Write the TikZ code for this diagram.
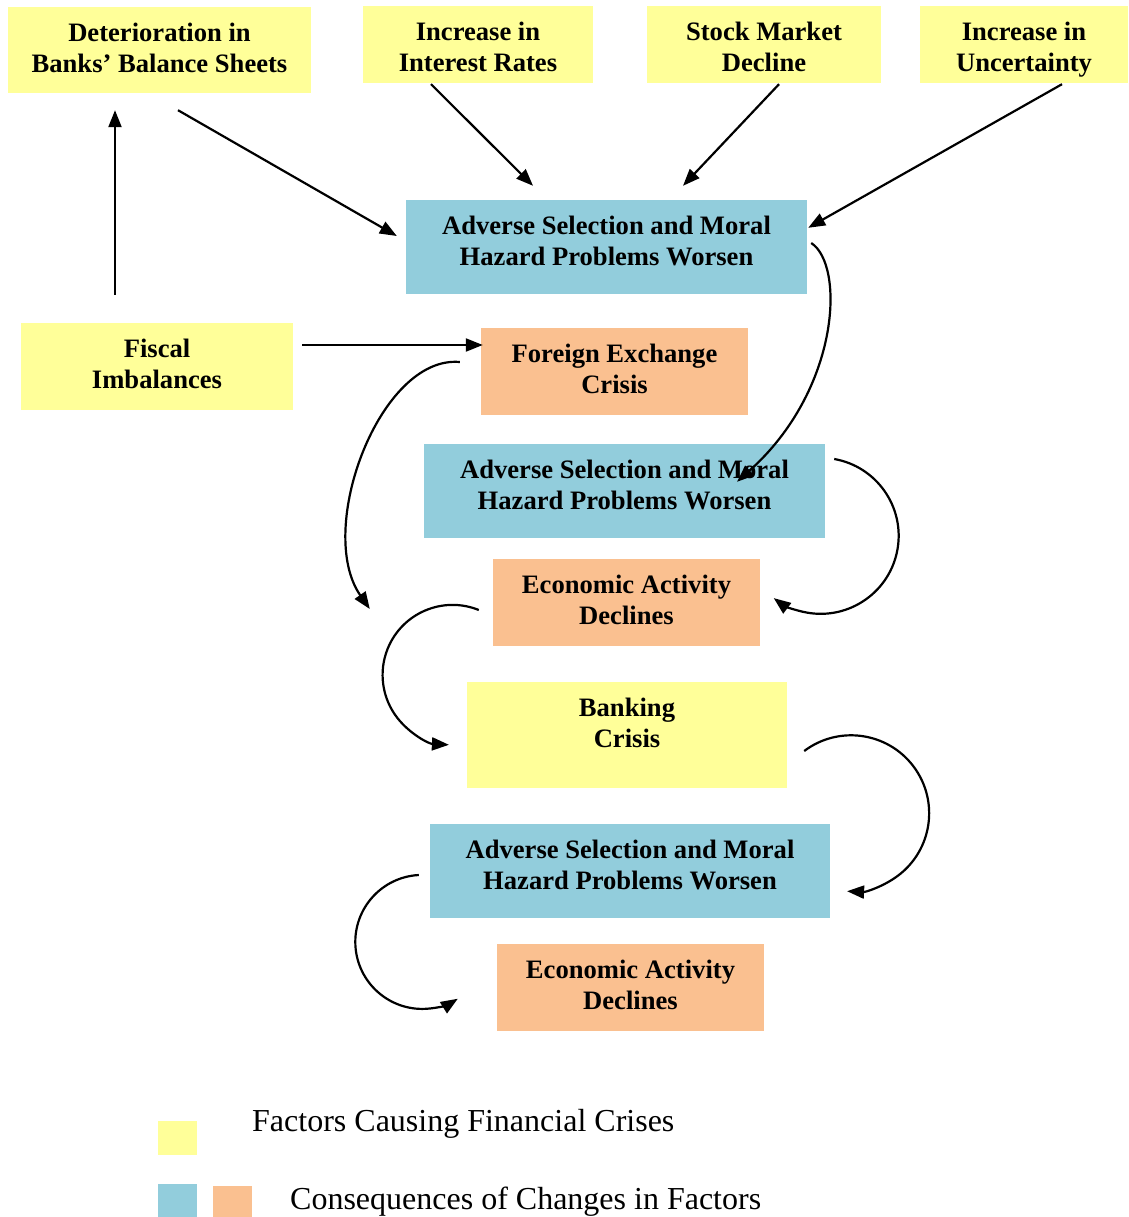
\documentclass[tikz,border=0pt]{standalone}
\usepackage{fontspec}
\setmainfont{Liberation Serif}
\usepackage{tikz}
\usetikzlibrary{arrows.meta, positioning}
\definecolor{factorcol}{HTML}{FFFF99}
\definecolor{worsecol}{HTML}{92CDDC}
\definecolor{declinecol}{HTML}{FAC090}

\begin{document}
\begin{tikzpicture}[x=1pt, y=-1pt,
  box/.style={inner sep=0pt},
  factor/.style={box, fill=factorcol},
  worse/.style={box, fill=worsecol},
  decline/.style={box, fill=declinecol},
  tag/.style={anchor=north, yshift=-16pt, inner sep=0pt, align=center, font=\bfseries\fontsize{26.6}{31}\selectfont},
  arr/.style={line width=2.2pt, -{Triangle[length=17pt, width=13pt]}}]
\useasboundingbox (0,0) rectangle (1128,1217);

% factors on top
\node[factor, minimum width=303pt, minimum height=86pt, label={[tag]north:{Deterioration in\\Banks' Balance Sheets}}] (det) at (159.5,50) {};
\node[factor, minimum width=230pt, minimum height=77pt, label={[tag]north:{Increase in\\Interest Rates}}] (intr) at (478,44.5) {};
\node[factor, minimum width=234pt, minimum height=77pt, label={[tag]north:{Stock Market\\Decline}}] (stock) at (764,44.5) {};
\node[factor, minimum width=208pt, minimum height=77pt, label={[tag]north:{Increase in\\Uncertainty}}] (unc) at (1024,44.5) {};

% chain of consequences
\node[worse, minimum width=401pt, minimum height=94pt, label={[tag]north:{Adverse Selection and Moral\\Hazard Problems Worsen}}] (asm1) at (606.5,247) {};
\node[factor, minimum width=272pt, minimum height=87pt, label={[tag]north:{Fiscal\\Imbalances}}] (fiscal) at (157,366.5) {};
\node[decline, minimum width=267pt, minimum height=87pt, label={[tag]north:{Foreign Exchange\\Crisis}}] (fx) at (614.5,371.5) {};
\node[worse, minimum width=401pt, minimum height=94pt, label={[tag]north:{Adverse Selection and Moral\\Hazard Problems Worsen}}] (asm2) at (624.5,491) {};
\node[decline, minimum width=267pt, minimum height=87pt, label={[tag]north:{Economic Activity\\Declines}}] (eco1) at (626.5,602.5) {};
\node[factor, minimum width=320pt, minimum height=106pt, label={[tag]north:{Banking\\Crisis}}] (bank) at (627,735) {};
\node[worse, minimum width=400pt, minimum height=94pt, label={[tag]north:{Adverse Selection and Moral\\Hazard Problems Worsen}}] (asm3) at (630,871) {};
\node[decline, minimum width=267pt, minimum height=87pt, label={[tag]north:{Economic Activity\\Declines}}] (eco2) at (630.5,987.5) {};

% straight arrows
\draw[arr] ([xshift=18.5pt,yshift=-17pt]det.south) -- ([xshift=-9pt,yshift=11pt]asm1.west);
\draw[arr] ([xshift=-47pt,yshift=-1pt]intr.south) -- ([xshift=-73.5pt,yshift=14pt]asm1.north);
\draw[arr] ([xshift=15pt,yshift=-1pt]stock.south) -- ([xshift=76.5pt,yshift=14pt]asm1.north);
\draw[arr] ([xshift=38pt,yshift=-1pt]unc.south) -- ([xshift=1pt,yshift=-28pt]asm1.north east);
\draw[arr] ([xshift=-42pt,yshift=28pt]fiscal.north) -- ([xshift=-44.5pt,yshift=-17pt]det.south);
\draw[arr] ([xshift=9pt,yshift=21.5pt]fiscal.east) -- ([xshift=2pt,yshift=26.5pt]fx.west);

% long curved arrows
\draw[arr] ([xshift=4pt,yshift=4pt]asm1.east) .. controls +(34,22) and +(103,-92) .. ([xshift=112.5pt,yshift=-38pt]asm2.north);
\draw[arr] ([xshift=-21pt,yshift=9.5pt]fx.west) .. controls +(-80,-7) and +(-55,-79) .. ([xshift=-123pt,yshift=-6.5pt]eco1.west);

% round loops
\draw[arr] ([xshift=9pt,yshift=32pt]asm2.east) arc[start angle=-80, end angle=127, radius=78];
\draw[arr] ([xshift=-14pt,yshift=-7.5pt]eco1.west) arc[start angle=-68, end angle=-267, radius=70];
\draw[arr] ([xshift=17pt,yshift=-16pt]bank.east) arc[start angle=-127, end angle=93, radius=78];
\draw[arr] ([xshift=-11pt,yshift=-4pt]asm3.west) arc[start angle=-93, end angle=-302, radius=67];

% legend
\fill[factorcol] (158,1121) rectangle (197,1155);
\fill[worsecol] (158,1184) rectangle (197,1217);
\fill[declinecol] (213,1186) rectangle (252,1217);
\node[anchor=west, inner sep=0pt, font=\fontsize{32}{38}\selectfont] (keyfactor) at (252,1124) {Factors Causing Financial Crises};
\node[anchor=west, inner sep=0pt, font=\fontsize{32}{38}\selectfont] (keyconseq) at (290,1202) {Consequences of Changes in Factors};
\end{tikzpicture}
\end{document}
